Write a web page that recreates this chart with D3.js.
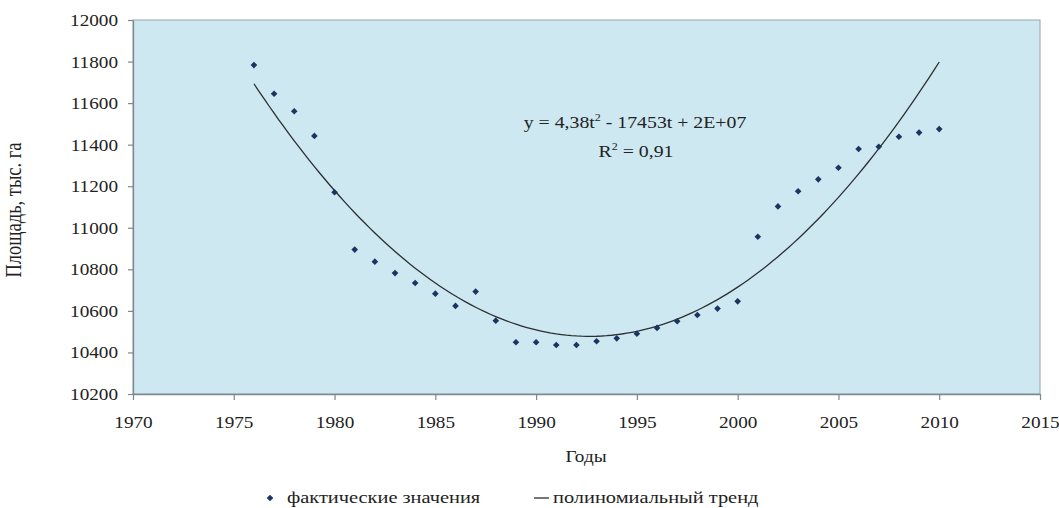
<!DOCTYPE html>
<html>
<head>
<meta charset="utf-8">
<script src="https://cdn.jsdelivr.net/npm/d3@7"></script>
<style>
  html, body { margin: 0; padding: 0; background: #ffffff; }
  svg { display: block; }
  text { font-family: "Liberation Serif", "Times New Roman", serif; fill: #222; }
</style>
</head>
<body>
<svg id="chart" width="1059" height="508"></svg>
<script>
// Посевная площадь по годам, тыс. га
const years = [1976, 1977, 1978, 1979, 1980, 1981, 1982, 1983, 1984, 1985,
               1986, 1987, 1988, 1989, 1990, 1991, 1992, 1993, 1994, 1995,
               1996, 1997, 1998, 1999, 2000, 2001, 2002, 2003, 2004, 2005,
               2006, 2007, 2008, 2009, 2010];
const area = [11783, 11645, 11561, 11442, 11171, 10895, 10837, 10782, 10734, 10683,
              10624, 10693, 10553, 10449, 10449, 10436, 10436, 10454, 10468, 10490,
              10518, 10550, 10580, 10611, 10646, 10957, 11103, 11176, 11233, 11289,
              11379, 11390, 11438, 11458, 11475];

const xTicks = [1970, 1975, 1980, 1985, 1990, 1995, 2000, 2005, 2010, 2015];
const yTicks = [10200, 10400, 10600, 10800, 11000, 11200, 11400, 11600, 11800, 12000];

const equationText = "y = 4,38t";
const equationRest = " - 17453t + 2E+07";
const r2Value = "0,91";
const xTitle = "Годы";
const yTitle = "Площадь, тыс. га";
const legendLabels = ["фактические значения", "полиномиальный тренд"];

// Least-squares quadratic trend over the observed years (centred for stability)
function quadFit(xs, ys) {
  const m = d3.mean(xs);
  let s = [0, 0, 0, 0, 0], t = [0, 0, 0];
  xs.forEach((x, i) => {
    const u = x - m;
    for (let k = 0; k < 5; k++) s[k] += Math.pow(u, k);
    for (let k = 0; k < 3; k++) t[k] += ys[i] * Math.pow(u, k);
  });
  const A = [[s[0], s[1], s[2]], [s[1], s[2], s[3]], [s[2], s[3], s[4]]];
  const det = M => M[0][0]*(M[1][1]*M[2][2]-M[1][2]*M[2][1])
                 - M[0][1]*(M[1][0]*M[2][2]-M[1][2]*M[2][0])
                 + M[0][2]*(M[1][0]*M[2][1]-M[1][1]*M[2][0]);
  const D = det(A);
  const coef = [0, 1, 2].map(j => det(A.map((row, r) => row.map((v, c) => c === j ? t[r] : v))) / D);
  return x => { const u = x - m; return coef[0] + coef[1]*u + coef[2]*u*u; };
}
const trend = quadFit(years, area);

const svg = d3.select("#chart");
const margin = { left: 133, top: 20, right: 19, bottom: 114 };
const W = 1059 - margin.left - margin.right;
const H = 508 - margin.top - margin.bottom;
const SX = 1.2; // horizontal glyph stretch

const x = d3.scaleLinear().domain([1970, 2015]).range([0, W]);
const y = d3.scaleLinear().domain([10200, 12000]).range([H, 0]);

const g = svg.append("g").attr("transform", `translate(${margin.left},${margin.top})`);

// plot area
g.append("rect").attr("x", 0).attr("y", 0).attr("width", W).attr("height", H)
  .attr("fill", "#cde8f0").attr("stroke", "#a9b0b6").attr("stroke-width", 1.2);

// axes
const yAxis = g.append("g").call(d3.axisLeft(y).tickValues(yTicks).tickSize(5).tickSizeOuter(0).tickFormat(d3.format("d")));
const xAxis = g.append("g").attr("transform", `translate(0,${H})`)
  .call(d3.axisBottom(x).tickValues(xTicks).tickSize(6).tickSizeOuter(0).tickFormat(d3.format("d")));
[yAxis, xAxis].forEach(a => {
  a.select(".domain").attr("stroke", "#7d8890").attr("stroke-width", 1.3);
  a.selectAll(".tick line").attr("stroke", "#7d8890").attr("stroke-width", 1.2);
  a.selectAll("text").attr("font-family", "Liberation Serif, serif").attr("font-size", 16).attr("fill", "#222");
});
yAxis.selectAll(".tick text").attr("x", 0).attr("dy", "0.34em")
  .attr("transform", `translate(-15,0) scale(${SX},1)`);
xAxis.selectAll(".tick text").attr("y", 34).attr("dy", 0)
  .attr("transform", `scale(${SX},1)`);

// trend curve
const tx = d3.range(1976, 2010.001, 0.25);
g.append("path")
  .datum(tx)
  .attr("fill", "none").attr("stroke", "#2b2f33").attr("stroke-width", 1.3)
  .attr("d", d3.line().x(d => x(d)).y(d => y(trend(d))));

// observed values as diamonds
const diamond = d3.symbol().type(d3.symbolSquare).size(22);
g.selectAll(".pt").data(years).join("path")
  .attr("class", "pt")
  .attr("d", diamond)
  .attr("fill", "#1c3461")
  .attr("transform", (d, i) => `translate(${x(d)},${y(area[i])}) rotate(45)`);

// equation annotation
const eq = svg.append("text").attr("text-anchor", "middle").attr("font-size", 16.5)
  .attr("transform", `translate(635,128) scale(${SX},1)`);
eq.append("tspan").text(equationText);
eq.append("tspan").attr("font-size", 10).attr("dy", -7).text("2");
eq.append("tspan").attr("dy", 7).text(equationRest);

const r2 = svg.append("text").attr("text-anchor", "middle").attr("font-size", 16.5)
  .attr("transform", `translate(636,157) scale(${SX},1)`);
r2.append("tspan").text("R");
r2.append("tspan").attr("font-size", 10).attr("dy", -7).text("2");
r2.append("tspan").attr("dy", 7).text(" = " + r2Value);

// axis titles
svg.append("text").attr("text-anchor", "middle").attr("font-size", 16)
  .attr("transform", `translate(586,462) scale(${SX},1)`).text(xTitle);
svg.append("text").attr("text-anchor", "middle").attr("font-size", 18.5)
  .attr("transform", `translate(21,210) scale(${SX},1) rotate(-90)`).text(yTitle);

// legend
const lg = svg.append("g").attr("transform", "translate(0,498)");
lg.append("path").attr("d", diamond).attr("fill", "#1c3461")
  .attr("transform", "translate(270,0) rotate(45)");
lg.append("text").attr("font-size", 17).attr("dy", "0.32em")
  .attr("transform", `translate(287,0) scale(${SX},1)`).text(legendLabels[0]);
lg.append("line").attr("x1", 534).attr("x2", 549).attr("y1", 0).attr("y2", 0)
  .attr("stroke", "#2b2f33").attr("stroke-width", 1.3);
lg.append("text").attr("font-size", 17).attr("dy", "0.32em")
  .attr("transform", `translate(553,0) scale(${SX},1)`).text(legendLabels[1]);
</script>
</body>
</html>
